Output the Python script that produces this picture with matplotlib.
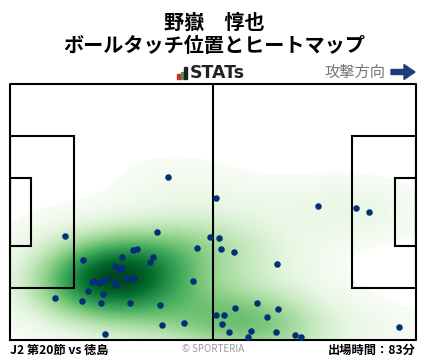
import numpy as np
import matplotlib
matplotlib.use("Agg")
import matplotlib.pyplot as plt
from matplotlib.patches import Rectangle, Polygon

plt.rcParams['font.family'] = ['Noto Sans CJK JP', 'DejaVu Sans']

# ボールタッチ位置 (m, 左下原点, 105 x 68)
touch_x = [40.9, 14.3, 38.1, 19.0, 29.0, 31.9, 32.9, 37.1, 36.3, 27.2,
           27.9, 28.4, 29.0, 30.1, 31.6, 32.0, 21.1, 21.6, 23.0, 23.7,
           25.0, 27.2, 27.5, 20.2, 24.1, 11.7, 18.7, 23.5, 31.1, 38.9,
           39.4, 24.6, 51.8, 54.1, 48.4, 54.6, 58.0, 69.1, 47.4, 58.3,
           64.0, 69.4, 66.5, 53.4, 55.4, 54.9, 45.1, 56.7, 62.4, 61.6,
           68.9, 73.8, 75.3, 79.7, 89.6, 92.9, 100.7, 53.2]
touch_y = [43.2, 27.5, 28.6, 21.3, 22.0, 23.8, 24.1, 22.0, 20.6, 19.6,
           18.8, 19.2, 19.0, 16.4, 16.2, 16.5, 15.3, 15.7, 15.1, 15.7,
           16.2, 15.3, 14.5, 12.9, 12.1, 11.1, 10.3, 9.7, 9.7, 9.2,
           3.9, 1.5, 27.3, 27.0, 24.4, 24.1, 23.3, 20.1, 15.6, 8.4,
           9.7, 8.2, 6.0, 6.6, 6.6, 4.2, 4.4, 2.0, 2.3, 0.7,
           2.0, 1.2, 0.7, 35.5, 35.0, 33.9, 3.4, 37.6]

player = "野嶽　惇也"
subtitle = "ボールタッチ位置とヒートマップ"
match_label = "J2 第20節 vs 徳島"
minutes_label = "出場時間：83分"

W, H = 428, 359
fig = plt.figure(figsize=(W / 100, H / 100), dpi=100)
ax = fig.add_axes([10 / W, 1 - 340 / H, 406 / W, 256 / H])
ax.set_xlim(0, 105)
ax.set_ylim(0, 68)
ax.axis('off')

# ヒートマップ (ガウスKDE, 等確率レベル)
pts = np.vstack([touch_x, touch_y])
n = pts.shape[1]
factor = n ** (-1 / 6) * 1.2
cov = np.cov(pts) * factor ** 2
inv = np.linalg.inv(cov)
gx, gy = np.meshgrid(np.linspace(-5, 110, 320), np.linspace(-5, 73, 220))
grid = np.vstack([gx.ravel(), gy.ravel()])
dens = np.zeros(grid.shape[1])
for i in range(n):
    d = grid - pts[:, i:i + 1]
    dens += np.exp(-0.5 * np.sum(d * (inv @ d), axis=0))
dens = dens.reshape(gx.shape)

vals = np.sort(dens.ravel())
cum = np.cumsum(vals)
cum /= cum[-1]
quantiles = np.linspace(0.025, 1.0, 80)
levels = np.unique(np.interp(quantiles, cum, vals))
ax.contourf(gx, gy, dens, levels=levels, cmap='Greens', extend='max', zorder=1)

# ピッチ
lc = 'black'
lw = 1.5
ax.plot([0, 105, 105, 0, 0], [0, 0, 68, 68, 0], color=lc, lw=lw, zorder=3, clip_on=False)
ax.plot([52.5, 52.5], [0, 68], color=lc, lw=lw, zorder=3)
for x0, w in [(0, 16.5), (105 - 16.5, 16.5)]:
    ax.add_patch(Rectangle((x0, 34 - 20.15), w, 40.3, fill=False, ec=lc, lw=lw, zorder=3))
for x0, w in [(0, 5.5), (105 - 5.5, 5.5)]:
    ax.add_patch(Rectangle((x0, 34 - 9.15), w, 18.3, fill=False, ec=lc, lw=lw, zorder=3))

ax.scatter(touch_x, touch_y, s=22, color='#032f78', zorder=4, linewidths=0)

# テキスト
def fx(px):
    return px / W

def fy(py):
    return 1 - py / H

fig.text(0.5, fy(22), player, ha='center', va='center', fontsize=14.5, fontweight='bold')
fig.text(0.5, fy(46), subtitle, ha='center', va='center', fontsize=14.5, fontweight='bold')

# STATs ロゴ
for bx, top, col in [(177, 74, '#d6282d'), (180.5, 72, '#3aa13c'), (184, 67, '#222222')]:
    fig.patches.append(Rectangle((fx(bx), fy(79)), 2.6 / W, (79 - top) / H,
                                 transform=fig.transFigure, color=col))
fig.text(fx(190), fy(73), "STATs", ha='left', va='center', fontsize=12.5,
         fontweight='bold', color='#222222', family='DejaVu Sans')

fig.text(fx(385), fy(72), "攻撃方向", ha='right', va='center', fontsize=11, color='#777777')
arrow_px = [(391, 69.5), (404, 69.5), (404, 64.5), (415, 72), (404, 79.5), (404, 74.5), (391, 74.5)]
fig.patches.append(Polygon([(fx(a), fy(b)) for a, b in arrow_px], closed=True,
                           transform=fig.transFigure, color='#1d3c7c'))

fig.text(fx(10), fy(350), match_label, ha='left', va='center', fontsize=8.8, fontweight='bold')
fig.text(fx(213), fy(349), "© SPORTERIA", ha='center', va='center', fontsize=7, color='#999999')
fig.text(fx(416), fy(350), minutes_label, ha='right', va='center', fontsize=8.8, fontweight='bold')

fig.savefig('out.png', dpi=100)
